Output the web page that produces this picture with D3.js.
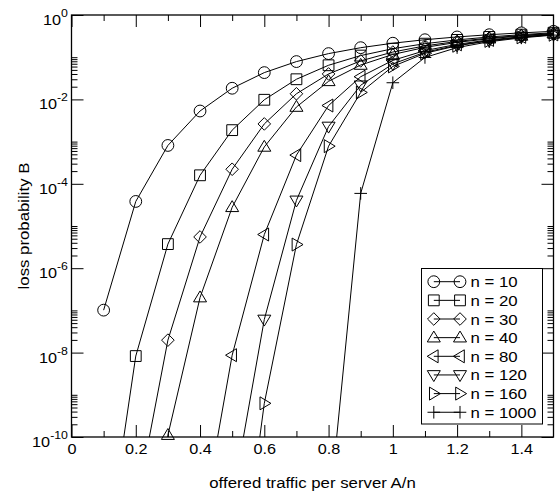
<!DOCTYPE html>
<html>
<head>
<meta charset="utf-8">
<script src="https://cdn.jsdelivr.net/npm/d3@7"></script>
<style>
  body { margin: 0; background: #fff; }
  svg { display: block; }
</style>
</head>
<body>
<svg id="chart" width="560" height="497"></svg>
<script>
// ---------------- data ----------------
const rho = [0.1, 0.2, 0.3, 0.4, 0.5, 0.6, 0.7, 0.8, 0.9, 1.0, 1.1, 1.2, 1.3, 1.4, 1.5];

const lossN10   = [1.014e-7, 3.819e-5, 8.104e-4, 5.308e-3, 1.838e-2, 4.314e-2, 7.874e-2, 1.217e-1, 1.680e-1, 2.146e-1, 2.596e-1, 3.019e-1, 3.412e-1, 3.773e-1, 4.103e-1];
const lossN20   = [5.83e-14, 8.28e-9, 3.725e-6, 1.590e-4, 1.869e-3, 9.797e-3, 3.003e-2, 6.441e-2, 1.092e-1, 1.589e-1, 2.091e-1, 2.571e-1, 3.018e-1, 3.428e-1, 3.801e-1];
const lossN30   = [3.87e-20, 2.07e-12, 1.972e-8, 5.499e-6, 2.213e-4, 2.624e-3, 1.359e-2, 4.012e-2, 8.188e-2, 1.325e-1, 1.854e-1, 2.366e-1, 2.843e-1, 3.279e-1, 3.674e-1];
const lossN40   = [2.7e-26, 5.46e-16, 1.107e-10, 2.016e-7, 2.778e-5, 7.483e-4, 6.606e-3, 2.683e-2, 6.535e-2, 1.161e-1, 1.710e-1, 2.245e-1, 2.742e-1, 3.200e-1, 3.610e-1];
const lossN80   = [null, null, 1.4e-19, 4.57e-13, 8.678e-9, 6.285e-6, 4.788e-4, 7.159e-3, 3.446e-2, 8.413e-2, 1.432e-1, 2.019e-1, 2.570e-1, 3.046e-1, 3.481e-1];
const lossN120  = [null, null, null, null, 3.13e-12, 6.100e-8, 4.049e-5, 2.282e-3, 2.163e-2, 6.944e-2, 1.310e-1, 1.923e-1, 2.480e-1, 2.989e-1, 3.435e-1];
const lossN160  = [null, null, null, null, 1.20e-15, 6.276e-10, 3.634e-6, 7.790e-4, 1.463e-2, 6.052e-2, 1.238e-1, 1.869e-1, 2.435e-1, 2.959e-1, 3.411e-1];
const lossN1000 = [null, null, null, null, null, null, null, 1.12e-12, 5.925e-5, 2.482e-2, 9.86e-2, 1.690e-1, 2.328e-1, 2.870e-1, 3.342e-1];

const legendLabels = ["n = 10", "n = 20", "n = 30", "n = 40", "n = 80", "n = 120", "n = 160", "n = 1000"];
const markerKinds  = ["circle", "square", "diamond", "triUp", "triLeft", "triDown", "triRight", "plus"];

const xMajorTicks = [0, 0.2, 0.4, 0.6, 0.8, 1.0, 1.2, 1.4];
const xTickLabels = ["0", "0.2", "0.4", "0.6", "0.8", "1", "1.2", "1.4"];
const xMinorTicks = [0.1, 0.3, 0.5, 0.7, 0.9, 1.1, 1.3];
const yMajorExponents = [0, -2, -4, -6, -8, -10];
const yMinorDecades = [-10, -8, -6, -4, -2];
const yMinorMultipliers = [2, 3, 4, 5, 6, 7, 8, 9, 10];

const xTitle = "offered traffic per server A/n";
const yTitle = "loss probability B";

// ---------------- layout ----------------
const FONT = "'Liberation Sans', Arial, Helvetica, sans-serif";
const SX = "scale(1.12,1)";
const L = 71.5, R = 553.5, T = 15, B = 437;

const svg = d3.select("#chart");
svg.append("rect").attr("width", 560).attr("height", 497).attr("fill", "#fff");

const x = d3.scaleLinear().domain([0, 1.5]).range([L, R]);
const y = d3.scaleLog().domain([1e-10, 1]).range([B, T]);

const yMajor = yMajorExponents.map(e => Math.pow(10, e));
const yMinor = [];
yMinorDecades.forEach(dec => yMinorMultipliers.forEach(k => yMinor.push(k * Math.pow(10, dec))));

svg.append("defs").append("clipPath").attr("id", "plotclip")
  .append("rect").attr("x", L).attr("y", T).attr("width", R - L).attr("height", B - T);

function styleAxis(g) {
  g.select(".domain").remove();
  g.selectAll("line").attr("stroke", "#000").attr("stroke-width", 1);
  g.attr("font-family", FONT).attr("font-size", 14.5);
}

// bottom axis (major + minor)
const gxB = svg.append("g").attr("transform", `translate(0,${B})`)
  .call(d3.axisBottom(x).tickValues(xMajorTicks).tickSize(-12).tickFormat((d, i) => xTickLabels[i]));
gxB.call(styleAxis);
gxB.selectAll(".tick text").attr("y", 17.5).attr("dy", null).attr("fill", "#000").attr("transform", SX);
svg.append("g").attr("transform", `translate(0,${B})`)
  .call(d3.axisBottom(x).tickValues(xMinorTicks).tickSize(-6).tickFormat(() => "")).call(styleAxis);

// top axis
svg.append("g").attr("transform", `translate(0,${T})`)
  .call(d3.axisTop(x).tickValues(xMajorTicks).tickSize(-12).tickFormat(() => "")).call(styleAxis);
svg.append("g").attr("transform", `translate(0,${T})`)
  .call(d3.axisTop(x).tickValues(xMinorTicks).tickSize(-6).tickFormat(() => "")).call(styleAxis);

// left axis
const gyL = svg.append("g").attr("transform", `translate(${L},0)`)
  .call(d3.axisLeft(y).tickValues(yMajor).tickSize(-12).tickFormat(() => ""));
gyL.call(styleAxis);
gyL.selectAll(".tick text").each(function (d) {
  const t = d3.select(this);
  const e = Math.round(Math.log10(d));
  t.text(null).attr("x", -3.2).attr("y", 9.5).attr("dy", null).attr("fill", "#000")
   .attr("text-anchor", "end").attr("transform", SX);
  t.append("tspan").text("10");
  t.append("tspan").attr("dy", -8).attr("font-size", 11).text(String(e));
});
svg.append("g").attr("transform", `translate(${L},0)`)
  .call(d3.axisLeft(y).tickValues(yMinor).tickSize(-6).tickFormat(() => "")).call(styleAxis);

// right axis
svg.append("g").attr("transform", `translate(${R},0)`)
  .call(d3.axisRight(y).tickValues(yMajor).tickSize(-12).tickFormat(() => "")).call(styleAxis);
svg.append("g").attr("transform", `translate(${R},0)`)
  .call(d3.axisRight(y).tickValues(yMinor).tickSize(-6).tickFormat(() => "")).call(styleAxis);

// frame
svg.append("rect").attr("x", L).attr("y", T).attr("width", R - L).attr("height", B - T)
  .attr("fill", "none").attr("stroke", "#000").attr("stroke-width", 1.3);

// axis titles
svg.append("text").attr("transform", `translate(${(L + R) / 2},487.5) ${SX}`)
  .attr("text-anchor", "middle").attr("font-family", FONT).attr("font-size", 15).attr("fill", "#000")
  .text(xTitle);
svg.append("text").attr("transform", `translate(29,${(T + B) / 2}) rotate(-90) ${SX}`)
  .attr("text-anchor", "middle").attr("font-family", FONT).attr("font-size", 15).attr("fill", "#000")
  .text(yTitle);

// ---------------- marks ----------------
function markerPath(kind) {
  switch (kind) {
    case "circle":   return "M-5.9,0A5.9,5.9 0 1,0 5.9,0A5.9,5.9 0 1,0 -5.9,0Z";
    case "square":   return "M-5.4,-5.4H5.4V5.4H-5.4Z";
    case "diamond":  return "M0,-6.3L6.3,0L0,6.3L-6.3,0Z";
    case "triUp":    return "M0,-6.6L6.5,4.3L-6.5,4.3Z";
    case "triDown":  return "M0,6.6L6.5,-4.3L-6.5,-4.3Z";
    case "triLeft":  return "M-6.6,0L4.3,-6.5L4.3,6.5Z";
    case "triRight": return "M6.6,0L-4.3,-6.5L-4.3,6.5Z";
    case "plus":     return "M-6.3,0H6.3M0,-6.3V6.3";
  }
}

const allSeries = [lossN10, lossN20, lossN30, lossN40, lossN80, lossN120, lossN160, lossN1000];

const line = d3.line()
  .defined(d => d[1] != null)
  .x(d => x(d[0]))
  .y(d => y(d[1]));

const plot = svg.append("g");
const linesG = plot.append("g").attr("clip-path", "url(#plotclip)");
allSeries.forEach((vals, si) => {
  const pts = rho.map((r, i) => [r, vals[i]]);
  linesG.append("path").datum(pts).attr("d", line)
    .attr("fill", "none").attr("stroke", "#000").attr("stroke-width", 1);
});
allSeries.forEach((vals, si) => {
  const pts = rho.map((r, i) => [r, vals[i]]).filter(d => d[1] != null && d[1] >= 1e-10);
  plot.append("g").selectAll("path").data(pts).join("path")
    .attr("transform", d => `translate(${x(d[0])},${y(d[1])})`)
    .attr("d", markerPath(markerKinds[si]))
    .attr("fill", "none").attr("stroke", "#000").attr("stroke-width", 1);
});

// ---------------- legend ----------------
const leg = svg.append("g");
leg.append("rect").attr("x", 421.5).attr("y", 268.5).attr("width", 121).attr("height", 155.5)
  .attr("fill", "#fff").attr("stroke", "#000").attr("stroke-width", 1);
legendLabels.forEach((lab, i) => {
  const cy = 281.7 + i * 18.65;
  const x1 = 433.8, x2 = 460;
  leg.append("line").attr("x1", x1).attr("x2", x2).attr("y1", cy).attr("y2", cy)
    .attr("stroke", "#000").attr("stroke-width", 1);
  [x1, x2].forEach(cx => {
    leg.append("path").attr("transform", `translate(${cx},${cy})`).attr("d", markerPath(markerKinds[i]))
      .attr("fill", "none").attr("stroke", "#000").attr("stroke-width", 1);
  });
  leg.append("text").attr("transform", `translate(470.5,${cy + 5.5}) ${SX}`)
    .attr("font-family", FONT).attr("font-size", 15).attr("fill", "#000").text(lab);
});
</script>
</body>
</html>
